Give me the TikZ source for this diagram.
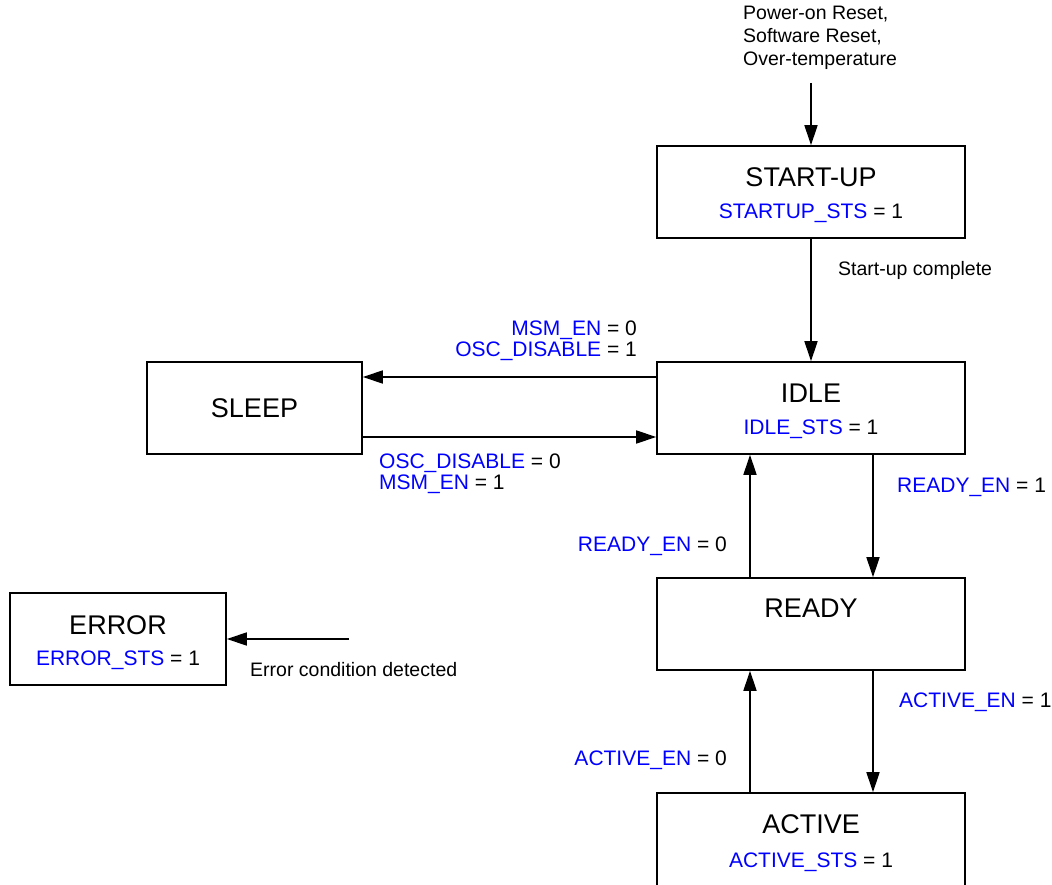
\documentclass[tikz,border=0pt]{standalone}
\usepackage{fontspec}
\setmainfont{Liberation Sans}
\usetikzlibrary{positioning, arrows.meta}

\tikzset{
  state/.style={draw, line width=1.6pt, minimum width=308pt, minimum height=92pt, inner sep=0pt},
  title/.style={font=\fontsize{27}{27}\selectfont},
  flag/.style={font=\fontsize{21}{21}\selectfont, inner sep=0pt},
  note/.style={font=\fontsize{19.5}{23}\selectfont, inner sep=0pt, align=left},
  trans/.style={line width=1.6pt, -{Triangle[length=20pt, width=13pt]}}
}
\newcommand{\reg}[1]{\textcolor{blue}{#1}}

\begin{document}
\begin{tikzpicture}[x=1pt, y=-1pt]
	\useasboundingbox (0,0) rectangle (1052,885);
	\clip (0,0) rectangle (1052,885);
	% states
	\node [state] at (811,192) (startup) {};
	\node [state] at (811,408) (idle) {};
	\node [state, minimum width=215pt] at (254.5,408) (sleep) {};
	\node [state] at (811,624) (ready) {};
	\node [state, minimum height=98pt] at (811,842) (active) {};
	\node [state, minimum width=216pt] at (118,639) (error) {};
	\node [title] at ([yshift=15pt]startup.center) (startupname) {START-UP};
	\node [flag] at ([yshift=-21pt]startup.center) (startupsts) {\reg{STARTUP\_STS} = 1};
	\node [title] at ([yshift=15pt]idle.center) (idlename) {IDLE};
	\node [flag] at ([yshift=-21pt]idle.center) (idlests) {\reg{IDLE\_STS} = 1};
	\node [title] at (sleep.center) (sleepname) {SLEEP};
	\node [title] at ([yshift=16pt]ready.center) (readyname) {READY};
	\node [title] at ([yshift=18pt]active.center) (activename) {ACTIVE};
	\node [flag] at ([yshift=-20pt]active.center) (activests) {\reg{ACTIVE\_STS} = 1};
	\node [title] at ([yshift=14pt]error.center) (errorname) {ERROR};
	\node [flag] at ([yshift=-21pt]error.center) (errorsts) {\reg{ERROR\_STS} = 1};
	% free ends
	\coordinate (reset) at (811,83);
	\coordinate (fault) at (349,639);
	% transitions
	\draw [trans] (reset) -- (startup.north);
	\draw [trans] (startup.south) -- (idle.north);
	\draw [trans] ([yshift=31pt]idle.west) -- ([yshift=31pt]sleep.east);
	\draw [trans] ([yshift=-29pt]sleep.east) -- ([yshift=-29pt]idle.west);
	\draw [trans] ([xshift=62pt]idle.south) -- ([xshift=62pt]ready.north);
	\draw [trans] ([xshift=-61pt]ready.north) -- ([xshift=-61pt]idle.south);
	\draw [trans] ([xshift=62pt]ready.south) -- ([xshift=62pt]active.north);
	\draw [trans] ([xshift=-61pt]active.north) -- ([xshift=-61pt]ready.south);
	\draw [trans] (fault) -- (error.east);
	% conditions
	\node [note, anchor=west] at (743,38) (resetnote) {Power-on Reset,\\Software Reset,\\Over-temperature};
	\node [note, anchor=west] at (838,270) (donenote) {Start-up complete};
	\node [note, anchor=west] at (250,670) (faultnote) {Error condition detected};
	\node [flag, anchor=east, align=right] at (637,341) (tosleep) {\reg{MSM\_EN} = 0\\\reg{OSC\_DISABLE} = 1};
	\node [flag, anchor=west, align=left] at (379,474) (fromsleep) {\reg{OSC\_DISABLE} = 0\\\reg{MSM\_EN} = 1};
	\node [flag, anchor=west] at (897,487) (toready) {\reg{READY\_EN} = 1};
	\node [flag, anchor=east] at (727,546) (fromready) {\reg{READY\_EN} = 0};
	\node [flag, anchor=west] at (899,702) (toactive) {\reg{ACTIVE\_EN} = 1};
	\node [flag, anchor=east] at (727,760) (fromactive) {\reg{ACTIVE\_EN} = 0};
\end{tikzpicture}
\end{document}
